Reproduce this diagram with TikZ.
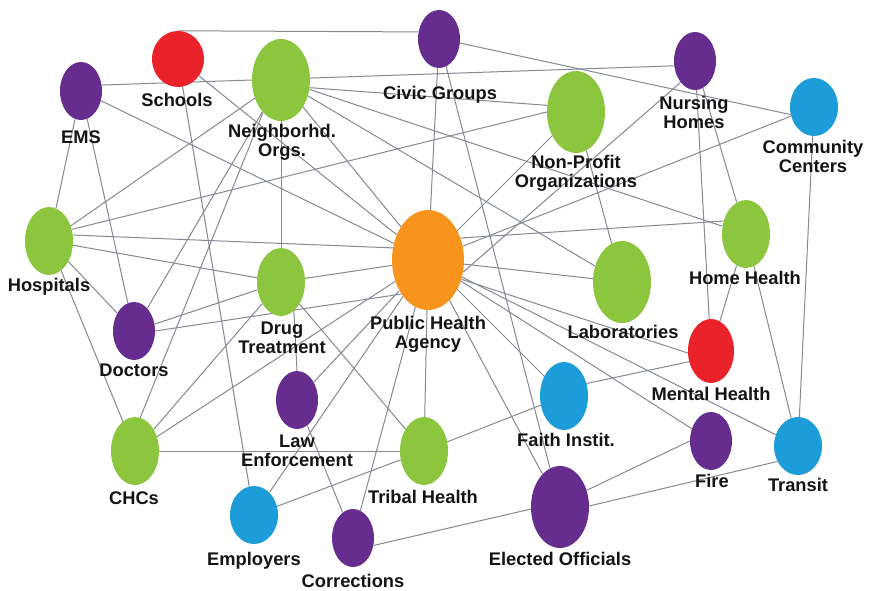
\documentclass[tikz,border=0pt]{standalone}
\usepackage{fontspec}
\setmainfont{Liberation Sans}
\usetikzlibrary{shapes.geometric,backgrounds}
\definecolor{cpur}{RGB}{102,45,142}
\definecolor{cgrn}{RGB}{140,198,63}
\definecolor{cred}{RGB}{234,35,42}
\definecolor{corg}{RGB}{247,148,30}
\definecolor{cblu}{RGB}{28,157,217}
\definecolor{cedge}{RGB}{132,137,146}
\definecolor{ctxt}{RGB}{20,20,20}
\begin{document}
\begin{tikzpicture}[x=1pt,y=-1pt,
  blob/.style n args={3}{ellipse,fill=#1,draw=none,inner sep=0pt,minimum width=#2,minimum height=#3},
  lbl/.style={font=\fontsize{18.3}{19}\selectfont\bfseries,text=ctxt,inner sep=0pt,anchor=base,align=center},
  edge/.style={draw=cedge,line width=1pt}]
\useasboundingbox (0,0) rectangle (870,591);
% nodes
\node[blob={cred}{52pt}{56pt}] (sch) at (178,59) {};
\node[blob={cpur}{42pt}{58pt}] (ems) at (81,91) {};
\node[blob={cgrn}{58pt}{82pt}] (ngh) at (281,80) {};
\node[blob={cpur}{42pt}{58pt}] (civ) at (439,39) {};
\node[blob={cgrn}{58pt}{82pt}] (np) at (576,112) {};
\node[blob={cpur}{42pt}{58pt}] (nur) at (695,61) {};
\node[blob={cblu}{48pt}{58pt}] (cc) at (814,107) {};
\node[blob={cgrn}{48pt}{68pt}] (hos) at (49,241) {};
\node[blob={cpur}{42pt}{58pt}] (doc) at (134,331) {};
\node[blob={cgrn}{48pt}{68pt}] (drg) at (281,282) {};
\node[blob={corg}{72pt}{100pt}] (pha) at (428,260) {};
\node[blob={cgrn}{58pt}{82pt}] (lab) at (622,282) {};
\node[blob={cgrn}{48pt}{68pt}] (hh) at (746,234) {};
\node[blob={cred}{46pt}{64pt}] (mh) at (711,351) {};
\node[blob={cgrn}{48pt}{68pt}] (chc) at (135,451) {};
\node[blob={cblu}{48pt}{58pt}] (emp) at (254,515) {};
\node[blob={cpur}{42pt}{58pt}] (law) at (297,400) {};
\node[blob={cgrn}{48pt}{68pt}] (tri) at (424,451) {};
\node[blob={cpur}{42pt}{58pt}] (cor) at (353,538) {};
\node[blob={cpur}{58pt}{82pt}] (ele) at (560,507) {};
\node[blob={cblu}{48pt}{68pt}] (fai) at (564,396) {};
\node[blob={cpur}{42pt}{58pt}] (fir) at (711,441) {};
\node[blob={cblu}{48pt}{58pt}] (tra) at (798,446) {};
% labels (anchor base = baseline of the last line)
\node[lbl] (lsch) at (177,107) {Schools};
\node[lbl] (lems) at (81,144) {EMS};
\node[lbl] (lngh) at (282,157) {Neighborhd.\\Orgs.};
\node[lbl] (lciv) at (440,100) {Civic Groups};
\node[lbl] (lnp) at (576,187) {Non-Profit\\Organizations};
\node[lbl] (lnur) at (694,129) {Nursing\\Homes};
\node[lbl] (lcc) at (813,172) {Community\\Centers};
\node[lbl] (lhos) at (49,291) {Hospitals};
\node[lbl] (ldoc) at (134,376) {Doctors};
\node[lbl] (ldrg) at (282,353) {Drug\\Treatment};
\node[lbl] (lpha) at (428,348) {Public Health\\Agency};
\node[lbl] (llab) at (623,338) {Laboratories};
\node[lbl] (lhh) at (745,284) {Home Health};
\node[lbl] (lmh) at (711,400) {Mental Health};
\node[lbl] (llaw) at (297,466) {Law\\Enforcement};
\node[lbl] (lchc) at (134,504) {CHCs};
\node[lbl] (lemp) at (254,565) {Employers};
\node[lbl] (ltri) at (423,503) {Tribal Health};
\node[lbl] (lfai) at (566,446) {Faith Instit.};
\node[lbl] (lcor) at (353,587) {Corrections};
\node[lbl] (lele) at (560,565) {Elected Officials};
\node[lbl] (lfir) at (712,487) {Fire};
\node[lbl] (ltra) at (798,491) {Transit};
% edges
\begin{scope}[on background layer]
\draw[edge] (sch.north) -- (civ.161);
\draw[edge] (sch) -- (pha);
\draw[edge] (sch) -- (emp);
\draw[edge] (ems.16) -- (nur.193);
\draw[edge] (ems) -- (hos);
\draw[edge] (ems) -- (doc);
\draw[edge] (ems) -- (pha);
\draw[edge] (ngh) -- (hos);
\draw[edge] (ngh) -- (doc);
\draw[edge] (ngh.241) -- (chc.81);
\draw[edge] (ngh) -- (drg);
\draw[edge] (ngh.345) -- (np.167);
\draw[edge] (ngh) -- (hh);
\draw[edge] (ngh) -- (lab);
\draw[edge] (ngh) -- (pha);
\draw[edge] (civ.349) -- (cc.198);
\draw[edge] (civ) -- (pha);
\draw[edge] (civ) -- (ele);
\draw[edge] (np) -- (pha);
\draw[edge] (np) -- (lab);
\draw[edge] (hos.27) -- (np.west);
\draw[edge] (nur) -- (mh);
\draw[edge] (nur) -- (hh);
\draw[edge] (nur.236) -- (pha.341);
\draw[edge] (cc) -- (pha);
\draw[edge] (cc) -- (tra);
\draw[edge] (hos.14) -- (pha.161);
\draw[edge] (hos) -- (drg);
\draw[edge] (hos) -- (doc);
\draw[edge] (hos) -- (chc);
\draw[edge] (doc) -- (drg);
\draw[edge] (doc.0) -- (pha.232);
\draw[edge] (drg) -- (pha);
\draw[edge] (drg) -- (chc);
\draw[edge] (drg.294) -- (law.north);
\draw[edge] (drg) -- (tri);
\draw[edge] (chc) -- (pha);
\draw[edge] (chc) -- (tri);
\draw[edge] (law) -- (pha);
\draw[edge] (law) -- (cor);
\draw[edge] (emp) -- (pha);
\draw[edge] (emp) -- (tri);
\draw[edge] (cor) -- (pha);
\draw[edge] (cor.340) -- (ele.184);
\draw[edge] (tri) -- (pha);
\draw[edge] (tri) -- (fai);
\draw[edge] (pha) -- (lab);
\draw[edge] (pha.34) -- (hh.150);
\draw[edge] (pha.330) -- (mh.185);
\draw[edge] (pha) -- (tra);
\draw[edge] (pha) -- (fir);
\draw[edge] (pha) -- (fai);
\draw[edge] (pha) -- (ele);
\draw[edge] (hh) -- (mh);
\draw[edge] (hh) -- (tra);
\draw[edge] (fai.29) -- (mh.206);
\draw[edge] (fir.west) -- (ele.32);
\draw[edge] (tra.217) -- (ele.2);
\end{scope}
\end{tikzpicture}
\end{document}
